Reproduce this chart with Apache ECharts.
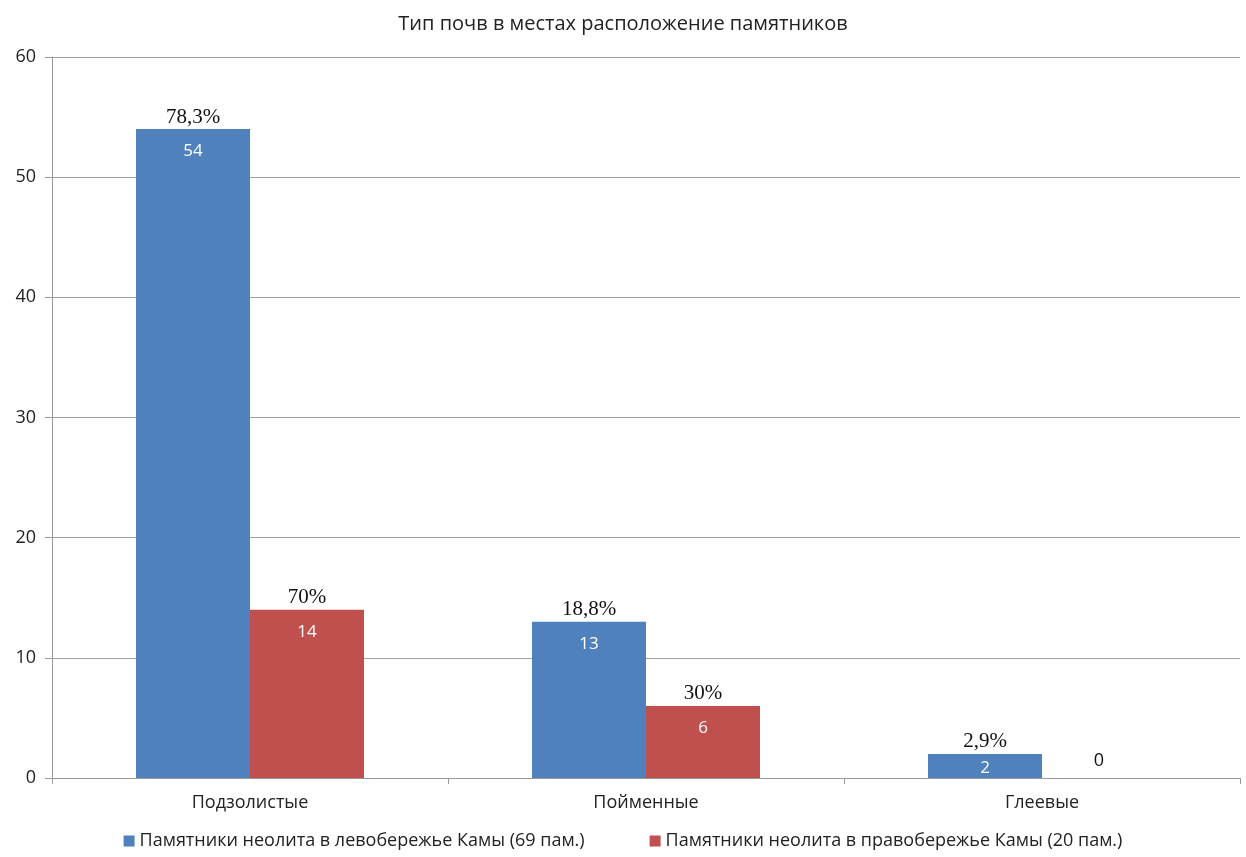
<!DOCTYPE html>
<html>
<head>
<meta charset="utf-8">
<script src="https://cdn.jsdelivr.net/npm/echarts@6/dist/echarts.min.js"></script>
<style>
  html, body { margin: 0; padding: 0; background: #fff; }
  #chart { width: 1246px; height: 857px; }
</style>
</head>
<body>
<div id="chart"></div>
<script>
const titleText = "Тип почв в местах расположение памятников";
const categories = ["Подзолистые", "Пойменные", "Глеевые"];
const leftName = "Памятники неолита в левобережье Камы (69 пам.)";
const rightName = "Памятники неолита в правобережье Камы (20 пам.)";
const leftValues = [54, 13, 2];
const rightValues = [14, 6, 0];
const leftPct = ["78,3%", "18,8%", "2,9%"];
const rightPct = ["70%", "30%", ""];

const sans = "'Open Sans', sans-serif";

// подпись: процент над столбцом, значение внутри
const barLabel = (pcts) => ({
  show: true,
  position: "insideTop",
  distance: 0,
  offset: [0, -24],
  formatter: (p) => `{p|${pcts[p.dataIndex]}}\n{v|${p.value}}`,
  rich: {
    p: { fontFamily: "'Liberation Serif', serif", fontSize: 21, color: "#111", lineHeight: 24 },
    v: { fontFamily: sans, fontSize: 17, color: "#fff", lineHeight: 44 }
  }
});

const buildData = (values) =>
  values.map((v) => {
    if (v === 0) {
      return {
        value: v,
        label: {
          position: "top",
          distance: 8,
          offset: [0, 0],
          formatter: "{z|0}",
          rich: { z: { fontFamily: sans, fontSize: 18, color: "#111" } }
        }
      };
    }
    if (v < 3) {
      // низкий столбец — значение ближе к верху
      return {
        value: v,
        label: {
          rich: {
            p: { fontFamily: "'Liberation Serif', serif", fontSize: 21, color: "#111", lineHeight: 24 },
            v: { fontFamily: sans, fontSize: 17, color: "#fff", lineHeight: 28 }
          }
        }
      };
    }
    return v;
  });

const chart = echarts.init(document.getElementById("chart"));

const option = {
  animation: false,
  title: {
    text: titleText,
    left: "center",
    top: 9,
    textStyle: { fontFamily: sans, fontSize: 20, fontWeight: "normal", color: "#222" }
  },
  legend: {
    bottom: 2,
    left: "center",
    itemGap: 65,
    itemWidth: 11,
    itemHeight: 11,
    icon: "rect",
    data: [leftName, rightName],
    textStyle: { fontFamily: sans, fontSize: 18, color: "#222" }
  },
  grid: { left: 52, right: 6, top: 57, bottom: 79 },
  xAxis: {
    type: "category",
    data: categories,
    axisLine: { lineStyle: { color: "#999" } },
    axisTick: { show: true, length: 6, lineStyle: { color: "#999" } },
    axisLabel: { margin: 16, fontFamily: sans, fontSize: 18, color: "#222" }
  },
  yAxis: {
    type: "value",
    min: 0,
    max: 60,
    interval: 10,
    axisLine: { show: true, lineStyle: { color: "#999" } },
    axisTick: { show: true, length: 7, lineStyle: { color: "#999" } },
    axisLabel: { margin: 16, fontFamily: sans, fontSize: 18, color: "#222" },
    splitLine: { lineStyle: { color: "#a0a0a0" } }
  },
  series: [
    {
      name: leftName,
      type: "bar",
      data: buildData(leftValues),
      barWidth: 114,
      barGap: "0%",
      itemStyle: { color: "#4F81BD" },
      label: barLabel(leftPct)
    },
    {
      name: rightName,
      type: "bar",
      data: buildData(rightValues),
      barWidth: 114,
      itemStyle: { color: "#C0504D" },
      label: barLabel(rightPct)
    }
  ]
};

chart.setOption(option);
</script>
</body>
</html>
